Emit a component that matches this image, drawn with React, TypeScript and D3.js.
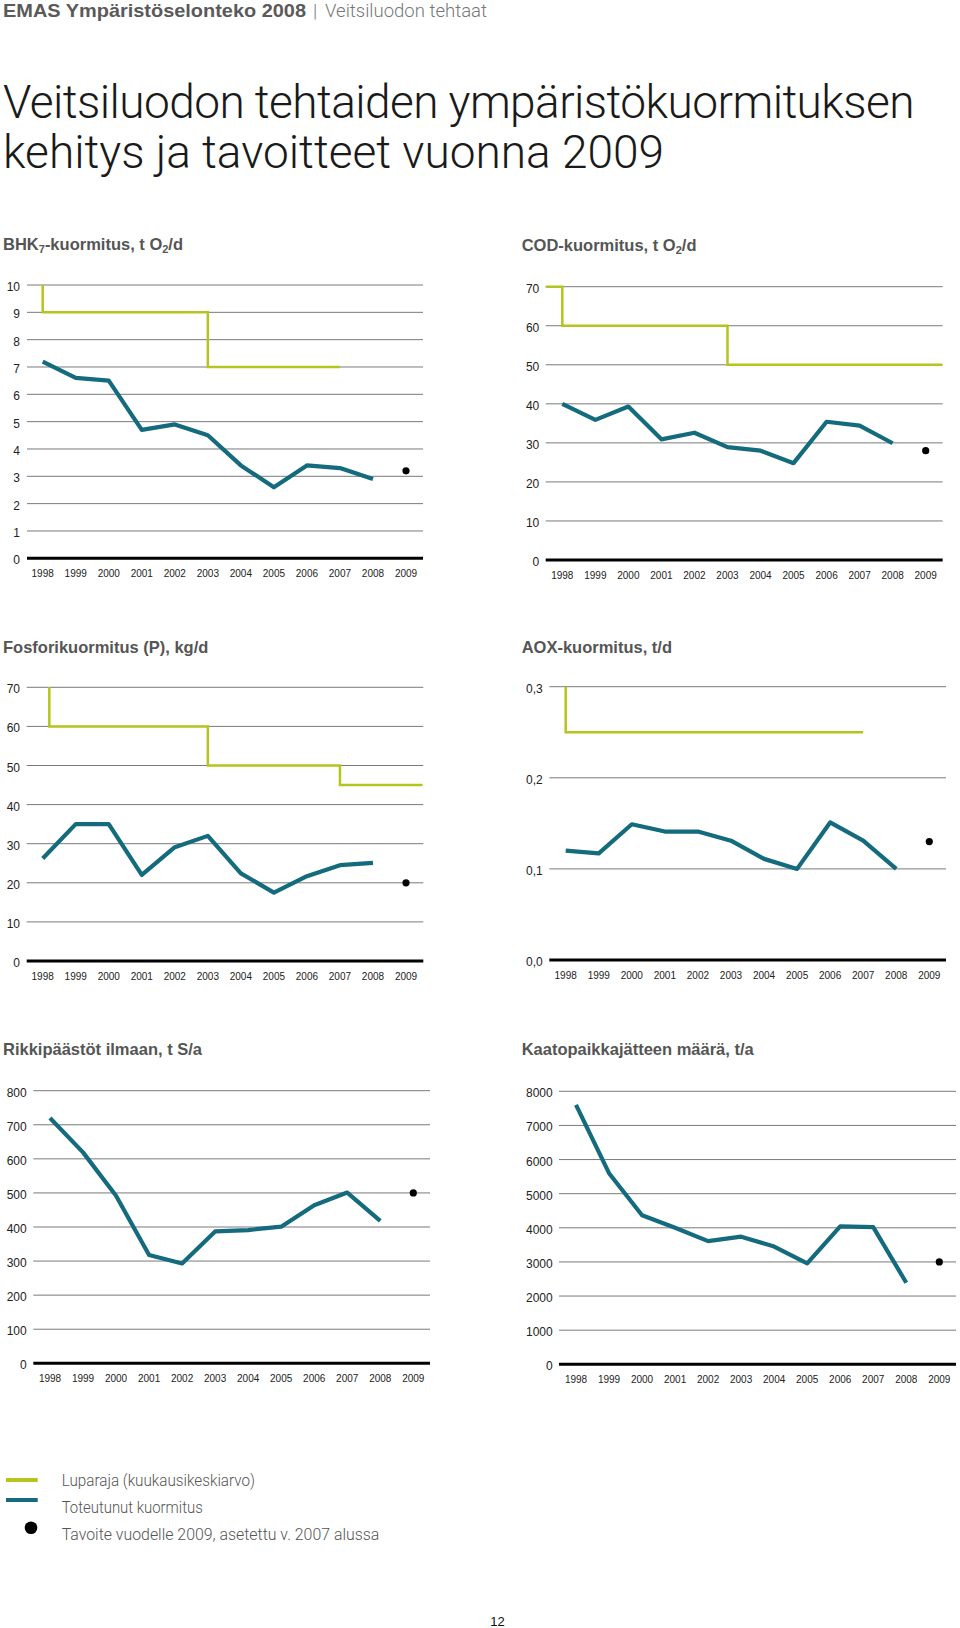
import React from "react";
import * as d3 from "d3";

// ---------- DATA ----------
const years = [1998, 1999, 2000, 2001, 2002, 2003, 2004, 2005, 2006, 2007, 2008, 2009];
const actualYears = [1998, 1999, 2000, 2001, 2002, 2003, 2004, 2005, 2006, 2007, 2008];
const targetYear = 2009;

const bhkValues = [7.2, 6.6, 6.5, 4.7, 4.9, 4.5, 3.4, 2.6, 3.4, 3.3, 2.9];
const bhkTarget = 3.2;
const bhkLimitYears = [1998, 1998, 2003, 2003, 2007];
const bhkLimitValues = [10, 9, 9, 7, 7];
const bhkTicks = [0, 1, 2, 3, 4, 5, 6, 7, 8, 9, 10];

const codValues = [40, 35.9, 39.3, 30.9, 32.6, 28.9, 28.0, 24.8, 35.4, 34.4, 29.9];
const codTarget = 28;
const codLimitYears = [1997.5, 1998, 1998, 2003, 2003, 2009.5];
const codLimitValues = [70, 70, 60, 60, 50, 50];
const codTicks = [0, 10, 20, 30, 40, 50, 60, 70];

const pValues = [26.2, 35, 35, 22, 29.1, 32, 22.4, 17.5, 21.7, 24.5, 25.1];
const pTarget = 20;
const pLimitYears = [1998.2, 1998.2, 2003, 2003, 2007, 2007, 2009.5];
const pLimitValues = [70, 60, 60, 50, 50, 45, 45];
const pTicks = [0, 10, 20, 30, 40, 50, 60, 70];

const aoxValues = [0.12, 0.117, 0.149, 0.141, 0.141, 0.131, 0.111, 0.1, 0.151, 0.131, 0.1];
const aoxTarget = 0.13;
const aoxLimitYears = [1998, 1998, 2007];
const aoxLimitValues = [0.3, 0.25, 0.25];
const aoxTicks = [0, 0.1, 0.2, 0.3];

const sValues = [720, 619, 492, 318, 293, 387, 391, 401, 464, 501, 418];
const sTarget = 500;
const sTicks = [0, 100, 200, 300, 400, 500, 600, 700, 800];

const wasteValues = [7600, 5600, 4370, 4000, 3610, 3740, 3450, 2960, 4040, 4020, 2390];
const wasteTarget = 3000;
const wasteTicks = [0, 1000, 2000, 3000, 4000, 5000, 6000, 7000, 8000];

const titleLines = ["Veitsiluodon tehtaiden ympäristökuormituksen", "kehitys ja tavoitteet vuonna 2009"];

const legendLabels = [
  "Luparaja (kuukausikeskiarvo)",
  "Toteutunut kuormitus",
  "Tavoite vuodelle 2009, asetettu v. 2007 alussa",
];

// ---------- STYLE ----------
const TEAL = "#146b7e";
const GREEN = "#b5c41e";
const SANS = "'Liberation Sans', Arial, Helvetica, sans-serif";
const LIGHT = "Roboto, 'Open Sans', sans-serif";

type PanelProps = {
  title: React.ReactNode;
  titleX: number;
  titleY: number;
  gridL: number;
  gridR: number;
  x0: number;
  x1: number;
  yTop: number;
  yBottom: number;
  yMax: number;
  ticks: number[];
  tickFmt: (v: number) => string;
  labelRight: number;
  values: number[];
  target: number;
  limitYears?: number[];
  limitValues?: number[];
};

function Panel(p: PanelProps) {
  const x = d3.scaleLinear().domain([1998, 2009]).range([p.x0, p.x1]);
  const y = d3.scaleLinear().domain([0, p.yMax]).range([p.yBottom, p.yTop]);
  const line = d3
    .line<[number, number]>()
    .x((d) => x(d[0]))
    .y((d) => y(d[1]));
  const actual = line(actualYears.map((yr, i) => [yr, p.values[i]] as [number, number]));
  const limit =
    p.limitYears && p.limitValues
      ? line(p.limitYears.map((yr, i) => [yr, p.limitValues![i]] as [number, number]))
      : null;
  return (
    <g>
      <text x={p.titleX} y={p.titleY} fontFamily={SANS} fontWeight="bold" fontSize={16.5} fill="#555">
        {p.title}
      </text>
      {p.ticks.map((t) => (
        <g key={t}>
          <line
            x1={p.gridL}
            x2={p.gridR}
            y1={y(t)}
            y2={y(t)}
            stroke={t === 0 ? "#000" : "#7a7a7a"}
            strokeWidth={t === 0 ? 3 : 1}
          />
          <text
            x={p.labelRight}
            y={y(t) + 6}
            textAnchor="end"
            fontFamily={SANS}
            fontSize={12}
            fill="#222"
          >
            {p.tickFmt(t)}
          </text>
        </g>
      ))}
      {years.map((yr) => (
        <text
          key={yr}
          x={x(yr)}
          y={p.yBottom + 18.5}
          textAnchor="middle"
          fontFamily={SANS}
          fontSize={10}
          fill="#222"
        >
          {yr}
        </text>
      ))}
      {limit && <path d={limit} fill="none" stroke={GREEN} strokeWidth={2.5} />}
      <path d={actual!} fill="none" stroke={TEAL} strokeWidth={4.2} strokeLinejoin="round" />
      <circle cx={x(targetYear)} cy={y(p.target)} r={3.6} fill="#000" />
    </g>
  );
}

const fmtInt = (v: number) => String(v);
const fmtComma = (v: number) => v.toFixed(1).replace(".", ",");

const sub = (t: string) => (
  <tspan fontSize={11} dy={3}>
    {t}
  </tspan>
);

export default function App() {
  return (
    <svg
      width={960}
      height={1628}
      viewBox="0 0 960 1628"
      style={{ position: "absolute", left: 0, top: 0, background: "#fff" }}
    >
      <rect width={960} height={1628} fill="#fff" />
      {/* Header */}
      <text x={3} y={17} fontFamily={SANS} fontWeight="bold" fontSize={19} fill="#5a5a5a" textLength={303} lengthAdjust="spacingAndGlyphs">
        EMAS Ympäristöselonteko 2008
      </text>
      <text x={313} y={17} fontFamily={LIGHT} fontWeight={300} fontSize={19} fill="#777">
        |
      </text>
      <text x={325} y={17} fontFamily={LIGHT} fontWeight={300} fontSize={19} fill="#777" textLength={162} lengthAdjust="spacingAndGlyphs">
        Veitsiluodon tehtaat
      </text>

      {/* Main title */}
      <text fontFamily={LIGHT} fontWeight={300} fontSize={46} fill="#1a1a1a">
        <tspan x={3} y={118} letterSpacing={-0.57}>{titleLines[0]}</tspan>
        <tspan x={3} y={168} letterSpacing={0}>{titleLines[1]}</tspan>
      </text>

      <Panel
        title={<>BHK{sub("7")}<tspan dy={-3}>-kuormitus, t O</tspan>{sub("2")}<tspan dy={-3}>/d</tspan></>}
        titleX={3}
        titleY={250}
        gridL={27}
        gridR={423}
        x0={42.7}
        x1={406}
        yTop={285}
        yBottom={558.3}
        yMax={10}
        ticks={bhkTicks}
        tickFmt={fmtInt}
        labelRight={20}
        values={bhkValues}
        target={bhkTarget}
        limitYears={bhkLimitYears}
        limitValues={bhkLimitValues}
      />
      <Panel
        title={<>COD-kuormitus, t O{sub("2")}<tspan dy={-3}>/d</tspan></>}
        titleX={521.7}
        titleY={250.5}
        gridL={545.7}
        gridR={942.7}
        x0={562.3}
        x1={925.7}
        yTop={286.7}
        yBottom={560}
        yMax={70}
        ticks={codTicks}
        tickFmt={fmtInt}
        labelRight={539.3}
        values={codValues}
        target={codTarget}
        limitYears={codLimitYears}
        limitValues={codLimitValues}
      />
      <Panel
        title="Fosforikuormitus (P), kg/d"
        titleX={3}
        titleY={652.7}
        gridL={26.7}
        gridR={423.3}
        x0={42.7}
        x1={406}
        yTop={687.3}
        yBottom={961}
        yMax={70}
        ticks={pTicks}
        tickFmt={fmtInt}
        labelRight={20}
        values={pValues}
        target={pTarget}
        limitYears={pLimitYears}
        limitValues={pLimitValues}
      />
      <Panel
        title="AOX-kuormitus, t/d"
        titleX={521.7}
        titleY={652.7}
        gridL={549.3}
        gridR={946}
        x0={565.7}
        x1={929.3}
        yTop={686.7}
        yBottom={960}
        yMax={0.3}
        ticks={aoxTicks}
        tickFmt={fmtComma}
        labelRight={542.7}
        values={aoxValues}
        target={aoxTarget}
        limitYears={aoxLimitYears}
        limitValues={aoxLimitValues}
      />
      <Panel
        title="Rikkipäästöt ilmaan, t S/a"
        titleX={3}
        titleY={1055}
        gridL={33.3}
        gridR={430}
        x0={50}
        x1={413.3}
        yTop={1090.7}
        yBottom={1363.3}
        yMax={800}
        ticks={sTicks}
        tickFmt={fmtInt}
        labelRight={26.7}
        values={sValues}
        target={sTarget}
      />
      <Panel
        title="Kaatopaikkajätteen määrä, t/a"
        titleX={521.7}
        titleY={1055}
        gridL={559}
        gridR={956}
        x0={576}
        x1={939.3}
        yTop={1091.3}
        yBottom={1364.3}
        yMax={8000}
        ticks={wasteTicks}
        tickFmt={fmtInt}
        labelRight={552.7}
        values={wasteValues}
        target={wasteTarget}
      />

      {/* Legend */}
      <line x1={6} x2={37.7} y1={1480} y2={1480} stroke={GREEN} strokeWidth={4} />
      <line x1={6} x2={37.7} y1={1500} y2={1500} stroke={TEAL} strokeWidth={4} />
      <circle cx={31} cy={1527.7} r={6.3} fill="#000" />
      {legendLabels.map((t, i) => (
        <text
          key={t}
          x={61.7}
          y={[1486, 1512.5, 1539.5][i]}
          fontFamily={LIGHT}
          fontWeight={300}
          fontSize={17}
          fill="#555"
          textLength={[193.3, 141, 317.6][i]}
          lengthAdjust="spacingAndGlyphs"
        >
          {t}
        </text>
      ))}

      {/* Page number */}
      <text x={497.5} y={1625.5} textAnchor="middle" fontFamily={SANS} fontSize={13} fill="#111">
        12
      </text>
    </svg>
  );
}
